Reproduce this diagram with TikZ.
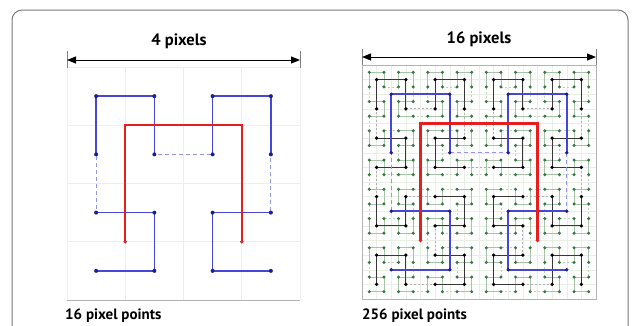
\documentclass[tikz,border=0pt]{standalone}
\usepackage{fontspec}
\setmainfont{PT Sans}
\usetikzlibrary{arrows.meta}

% ---- Hilbert curve: index -> cell (x,y), y counted upwards ----
\newcount\hcx \newcount\hcy \newcount\hct \newcount\hcs
\newcount\hcrx \newcount\hcry \newcount\hctmp
\def\hilbertpoint#1#2{%
  \hcx=0 \hcy=0 \hct=#2\relax \hcs=1
  \loop\ifnum\hcs<#1\relax
    \hctmp=\hct \divide\hctmp by 2
    \hcrx=\hctmp \divide\hcrx by 2 \multiply\hcrx by -2 \advance\hcrx by \hctmp
    \hcry=\hct \divide\hcry by 2 \multiply\hcry by -2 \advance\hcry by \hct
    \ifnum\hcry=\hcrx \hcry=0 \else \hcry=1 \fi
    \ifnum\hcry=0
      \ifnum\hcrx=1
        \hcx=\numexpr\hcs-1-\hcx\relax
        \hcy=\numexpr\hcs-1-\hcy\relax
      \fi
      \hctmp=\hcx \hcx=\hcy \hcy=\hctmp
    \fi
    \advance\hcx by \numexpr\hcs*\hcrx\relax
    \advance\hcy by \numexpr\hcs*\hcry\relax
    \divide\hct by 4
    \multiply\hcs by 2
  \repeat}

% named coordinates #1-0 ... #1-(n^2-1) for an n x n curve in a square
\newcommand\hilbertcoords[5]{% prefix, n, left, top, width
  \pgfmathtruncatemacro\hlast{#2*#2-1}%
  \foreach \d in {0,...,\hlast}{%
    \hilbertpoint{#2}{\d}%
    \coordinate (#1-\d) at ({#3+(\the\hcx+0.5)*#5/#2},{#4+(#2-0.5-\the\hcy)*#5/#2});
  }}

% solid U-shaped units, dashed links between them
\newcommand\hilbertpath[4]{% prefix, n, unit style, link style
  \pgfmathtruncatemacro\hgroups{#2*#2/4-1}%
  \foreach \g in {0,...,\hgroups}{%
    \pgfmathtruncatemacro\hpa{4*\g}%
    \pgfmathtruncatemacro\hpb{4*\g+1}%
    \pgfmathtruncatemacro\hpc{4*\g+2}%
    \pgfmathtruncatemacro\hpd{4*\g+3}%
    \draw[#3] (#1-\hpa) -- (#1-\hpb) -- (#1-\hpc) -- (#1-\hpd);
    \ifnum\g<\hgroups
      \pgfmathtruncatemacro\hpe{4*\g+4}%
      \draw[#4] (#1-\hpd) -- (#1-\hpe);
    \fi
  }}

\newcommand\hilbertdots[4]{% prefix, n, dot style, radius
  \pgfmathtruncatemacro\hlast{#2*#2-1}%
  \foreach \d in {0,...,\hlast}{\fill[#3] (#1-\d) circle[radius=#4];}}

\definecolor{frame}{RGB}{120,120,120}
\definecolor{gridc}{RGB}{238,238,238}
\definecolor{gridg}{RGB}{232,240,228}
\definecolor{panel}{RGB}{180,180,180}
\definecolor{grn}{RGB}{168,195,168}
\definecolor{grndot}{RGB}{50,120,60}
\definecolor{blk}{RGB}{55,55,55}
\definecolor{blu}{RGB}{70,70,215}
\definecolor{bludot}{RGB}{30,30,140}
\definecolor{blulight}{RGB}{150,150,230}
\definecolor{rd}{RGB}{230,30,30}

\tikzset{
  gridline/.style={gridc, line width=0.6pt},
  greenunit/.style={grn, line width=0.8pt},
  greenlink/.style={grn!75, line width=0.7pt, dash pattern=on 2pt off 2pt},
  greendot/.style={grndot},
  blackunit/.style={blk, line width=1.1pt},
  blacklink/.style={blk!40, line width=0.8pt, dash pattern=on 2pt off 2pt},
  blackdot/.style={black},
  blueunit/.style={blu, line width=1.6pt},
  bluelink/.style={blulight, line width=1.2pt, dash pattern=on 4pt off 3pt},
  bluedot/.style={bludot},
  redunit/.style={rd, line width=2.2pt},
  reddot/.style={rd},
  dimline/.style={black, line width=1pt, {Triangle[length=9pt,width=7pt]}-{Triangle[length=9pt,width=7pt]}},
  dimtick/.style={gray, line width=0.8pt},
  caption/.style={font=\fontsize{16.5}{18}\selectfont\bfseries, inner sep=0pt},
  footer/.style={font=\fontsize{15}{17}\selectfont\bfseries, inner sep=0pt, anchor=base west},
}

\begin{document}
\begin{tikzpicture}[x=1pt, y=-1pt]
\useasboundingbox (0,0) rectangle (638,325);
\clip (0,0) rectangle (638,325);

% outer frame
\draw[frame, line width=1pt, rounded corners=10pt] (12,10) rectangle (628,345);

% ---------- left panel: 4 x 4 ----------
\foreach \i in {0,...,4}{
  \draw[gridline] ({67+58.25*\i},67) -- ({67+58.25*\i},300);
  \draw[gridline] (67,{67+58.25*\i}) -- (300,{67+58.25*\i});
}
\draw[panel, line width=0.8pt] (67,300) -- (300,300);

\hilbertcoords{LB}{4}{67}{67}{233}
\hilbertcoords{LR}{2}{67}{67}{233}
\hilbertpath{LB}{4}{blueunit, line width=1.7pt}{bluelink, shorten <=4pt}
\hilbertdots{LB}{4}{bluedot}{2pt}
\hilbertpath{LR}{2}{redunit, line width=2.4pt}{redunit}
\fill[reddot] (LR-0) circle[radius=1.9pt] (LR-3) circle[radius=1.9pt];

% dimension arrow, left
\coordinate (la) at (67,60);
\coordinate (lb) at (300,60);
\draw[dimtick] (67,51) -- (67,68) (300,51) -- (300,68);
\draw[dimline] (la) -- (lb);
\node[caption, anchor=base] (ltitle) at (179,45) {4 pixels};

% ---------- right panel: 16 x 16 ----------
\foreach \i in {1,...,15}{
  \draw[gridg, line width=0.4pt] ({362+14.625*\i},65) -- ({362+14.625*\i},299);
  \draw[gridg, line width=0.4pt] (362,{65+14.625*\i}) -- (596,{65+14.625*\i});
}
\draw[panel, line width=0.8pt] (362,65) rectangle (596,299);

\hilbertcoords{RG}{16}{362}{65}{234}
\hilbertcoords{RK}{8}{362}{65}{234}
\hilbertcoords{RB}{4}{362}{65}{234}
\hilbertcoords{RR}{2}{362}{65}{234}

\hilbertpath{RG}{16}{greenunit}{greenlink}
\hilbertdots{RG}{16}{greendot}{1.7pt}
\hilbertpath{RK}{8}{blackunit}{blacklink}
\hilbertdots{RK}{8}{blackdot}{1.8pt}
\hilbertpath{RB}{4}{blueunit}{bluelink}
\hilbertdots{RB}{4}{bluedot}{1.9pt}
\hilbertpath{RR}{2}{redunit}{redunit}
\fill[reddot] (RR-0) circle[radius=1.9pt] (RR-3) circle[radius=1.9pt];

% dimension arrow, right
\coordinate (ra) at (362,57);
\coordinate (rb) at (596,57);
\draw[dimtick] (362,49) -- (362,65) (596,49) -- (596,65);
\draw[dimline] (ra) -- (rb);
\node[caption, anchor=base] (rtitle) at (479,43) {16 pixels};

% captions below
\node[footer] (lfoot) at (65,319) {16 pixel points};
\node[footer] (rfoot) at (362,319) {256 pixel points};
\end{tikzpicture}
\end{document}
